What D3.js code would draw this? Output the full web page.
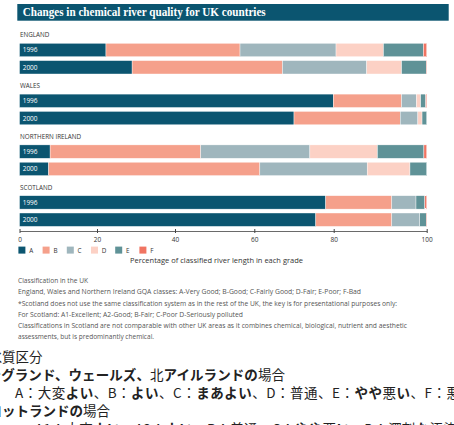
<!DOCTYPE html>
<html><head><meta charset="utf-8">
<script src="https://cdn.jsdelivr.net/npm/d3@7"></script>
<style>
html,body{margin:0;padding:0;background:#fff;overflow:hidden}
svg{display:block}
</style></head>
<body>
<script>
const title = "Changes in chemical river quality for UK countries";
const countries = ["ENGLAND","WALES","NORTHERN IRELAND","SCOTLAND"];
const years = ["1996","2000"];
const grades = ["A","B","C","D","E","F"];
// rows: England 1996, 2000, Wales 1996, 2000, N. Ireland 1996, 2000, Scotland 1996, 2000
const gradeA = [22.3, 29.0, 79.9, 70.0, 7.9, 7.5, 78.0, 75.5];
const gradeB = [34.1, 38.1, 14.7, 24.3, 38.6, 53.9, 14.5, 17.0];
const gradeC = [24.1, 20.0, 3.2, 3.8, 27.5, 25.8, 5.2, 6.0];
const gradeD = [10.2, 7.5, 0.9, 0.9, 15.4, 9.2, 0, 0];
const gradeE = [8.6, 5.3, 1.1, 1.0, 10.0, 3.6, 1.9, 1.4];
const gradeF = [0.7, 0.1, 0.2, 0, 0.6, 0, 0.4, 0.1];
const tickValues = [0, 20, 40, 60, 80, 100];
const axisTitle = "Percentage of classified river length in each grade";
const notes = [
  "Classification in the UK",
  "England, Wales and Northern Ireland GQA classes: A-Very Good; B-Good; C-Fairly Good; D-Fair; E-Poor; F-Bad",
  "*Scotland does not use the same classification system as in the rest of the UK, the key is for presentational purposes only:",
  "For Scotland: A1-Excellent; A2-Good; B-Fair; C-Poor D-Seriously polluted",
  "Classifications in Scotland are not comparable with other UK areas as it combines chemical, biological, nutrient and aesthetic",
  "assessments, but is predominantly chemical."
];
const noteWidths = [70, 343, 379, 225, 389, 136];
// Japanese lines: segments [text, bold]
const jpLines = [
  [["水質区分", false]],
  [["イングランド、ウェールズ、", true], ["北", false], ["アイルランドの", true], ["場合", false]],
  [["A：大変", false], ["よい", true], ["、B：", false], ["よい", true], ["、C：", false], ["まあよい", true], ["、D：普通、E：", false], ["やや", true], ["悪", false], ["い", true], ["、F：悪", false], ["い", true]],
  [["スコットランドの", true], ["場合", false]],
  [["A1：大変", false], ["よい", true], ["、A2：", false], ["よい", true], ["、B：普通、C：", false], ["やや", true], ["悪", false], ["い", true], ["、D：深刻", false], ["な", true], ["汚染", false]]
];
const jpX = [-11.5, -26, 15, -25, 35];
const jpLen = [null, 311, 459, null, 422];

const colors = {A:"#0b5570", B:"#f5a08b", C:"#9fb6bd", D:"#fcd1c5", E:"#5f9297", F:"#f07462"};

const W = 454, H = 425;
const svg = d3.select("body").append("svg").attr("width", W).attr("height", H);

// title bar
svg.append("rect").attr("x", 17.3).attr("y", 4).attr("width", 431.4).attr("height", 16.7).attr("fill", colors.A);
svg.append("text").attr("x", 22.7).attr("y", 16.3).text(title)
  .attr("fill", "#fff").attr("font-family", "Liberation Serif, DejaVu Serif, serif")
  .attr("font-size", 13.5).attr("font-weight", "bold")
  .attr("textLength", 243).attr("lengthAdjust", "spacingAndGlyphs");

const x = d3.scaleLinear().domain(tickValues).range([19.5, 97, 175, 254.3, 333.7, 426.7]);

const rows = [];
countries.forEach((c, ci) => years.forEach((y, yi) => {
  const i = ci * 2 + yi;
  rows.push({country: c, year: y, ci, yi, A: gradeA[i], B: gradeB[i], C: gradeC[i], D: gradeD[i], E: gradeE[i], F: gradeF[i]});
}));

const groupTop = d3.scaleLinear().domain([0, 3]).range([43.3, 195.7]);
const barH = 13.4, rowStep = 17.3;
const rowY = r => groupTop(r.ci) + r.yi * rowStep;

// country labels
svg.selectAll(".clab").data(countries).join("text")
  .attr("x", 20).attr("y", (d, i) => groupTop(i) - 6)
  .text(d => d).attr("font-family", "Open Sans, sans-serif").attr("font-size", 6.3)
  .attr("fill", "#333");

const stack = d3.stack().keys(grades)(rows);
svg.append("g").selectAll("g").data(stack).join("g")
  .attr("fill", d => colors[d.key])
  .selectAll("rect").data(d => d).join("rect")
  .attr("x", d => x(d[0])).attr("width", d => Math.max(0, x(d[1]) - x(d[0])))
  .attr("y", d => rowY(d.data)).attr("height", barH)
  .attr("stroke", "#fff").attr("stroke-width", 0.4);

// year labels
svg.selectAll(".ylab").data(rows).join("text")
  .attr("x", 22.7).attr("y", d => rowY(d) + barH / 2 + 2.4)
  .text(d => d.year).attr("fill", "#fff")
  .attr("font-family", "Open Sans, sans-serif").attr("font-size", 6.5);

// axis
const axis = svg.append("g").attr("transform", "translate(0,231)")
  .call(d3.axisBottom(x).tickValues(tickValues).tickSizeOuter(0).tickSizeInner(4).tickPadding(3));
axis.select(".domain").attr("stroke", "#444").attr("stroke-width", 0.8);
axis.selectAll(".tick line").attr("y1", -2).attr("y2", 2).attr("stroke", "#444");
axis.selectAll(".tick text").attr("y", 10.5).attr("dy", 0).attr("font-family", "Open Sans, sans-serif")
  .attr("font-size", 6.5).attr("fill", "#333");

// legend
const lg = svg.append("g").selectAll("g").data(grades).join("g")
  .attr("transform", (d, i) => `translate(${18.4 + i * 24.2},246.6)`);
lg.append("rect").attr("width", 7).attr("height", 7).attr("fill", d => colors[d]);
lg.append("text").attr("x", 10.8).attr("y", 6.2).text(d => d)
  .attr("font-family", "Open Sans, sans-serif").attr("font-size", 6.3).attr("fill", "#333");

svg.append("text").attr("x", 216.5).attr("y", 263.3).attr("text-anchor", "middle").text(axisTitle)
  .attr("font-family", "Open Sans, sans-serif").attr("font-size", 7).attr("fill", "#333")
  .attr("textLength", 173).attr("lengthAdjust", "spacingAndGlyphs");

// notes
svg.selectAll(".note").data(notes).join("text")
  .attr("x", 18).attr("y", (d, i) => 283.3 + i * 11.1)
  .text(d => d).attr("font-family", "Open Sans, sans-serif").attr("font-size", 6.2)
  .attr("fill", "#555")
  .attr("textLength", (d, i) => noteWidths[i]).attr("lengthAdjust", "spacingAndGlyphs");

// Japanese text
const jp = svg.selectAll(".jp").data(jpLines).join("text")
  .attr("x", (d, i) => jpX[i]).attr("y", (d, i) => 362 + i * 18)
  .attr("font-family", "Noto Sans CJK JP, sans-serif").attr("font-size", 13.5).attr("fill", "#222")
  .each(function(d, i) { if (jpLen[i]) d3.select(this).attr("textLength", jpLen[i]).attr("lengthAdjust", "spacing"); });
jp.selectAll("tspan").data(d => d).join("tspan")
  .text(d => d[0]).attr("font-weight", d => d[1] ? "bold" : "normal");
</script>
</body></html>
